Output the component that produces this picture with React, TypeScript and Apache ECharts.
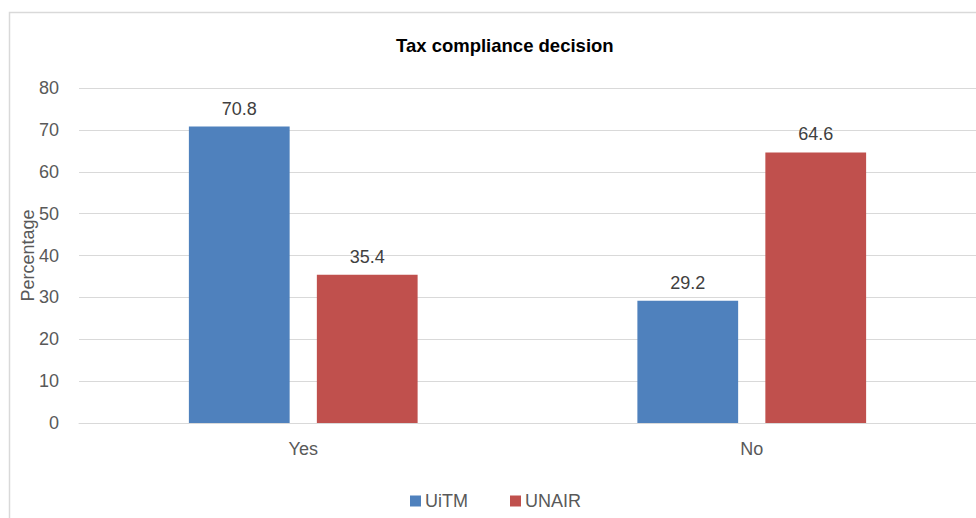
import React, { useEffect, useRef } from "react";
import * as echarts from "echarts";

const categories = ["Yes", "No"];
const uitmValues = [70.8, 29.2];
const unairValues = [35.4, 64.6];
const seriesNames = ["UiTM", "UNAIR"];
const titleText = "Tax compliance decision";
const yAxisName = "Percentage";

const FONT = "'Liberation Sans', Arial, sans-serif";

export default function App() {
  const ref = useRef<HTMLDivElement>(null);
  useEffect(() => {
    if (!ref.current) return;
    const chart = echarts.init(ref.current, null, { renderer: "svg" });
    const labelStyle = {
      show: true,
      position: "top",
      distance: 9,
      fontFamily: FONT,
      fontSize: 18,
      color: "#404040",
    };
    chart.setOption({
      animation: false,
      backgroundColor: "#ffffff",
      title: {
        text: titleText,
        left: 391,
        top: 31,
        textStyle: { fontFamily: FONT, fontSize: 18.5, fontWeight: "bold", color: "#000000" },
      },
      legend: {
        data: seriesNames,
        left: 405,
        top: 487,
        icon: "rect",
        itemWidth: 11,
        itemHeight: 11,
        itemGap: 42,
        textStyle: { fontFamily: FONT, fontSize: 18, color: "#595959", padding: [0, 0, 0, -1] },
      },
      grid: { left: 79, top: 88, width: 899, bottom: 95, containLabel: false },
      xAxis: {
        type: "category",
        data: categories,
        axisLine: { show: true, lineStyle: { color: "#d9d9d9", width: 1 } },
        axisTick: { show: false },
        axisLabel: { margin: 17, fontFamily: FONT, fontSize: 18, color: "#595959" },
      },
      yAxis: {
        type: "value",
        min: 0,
        max: 80,
        interval: 10,
        name: yAxisName,
        nameLocation: "middle",
        nameGap: 42,
        nameMoveOverlap: false,
        nameTextStyle: { fontFamily: FONT, fontSize: 18, color: "#595959" },
        axisLine: { show: false },
        axisTick: { show: false },
        axisLabel: { margin: 20, fontFamily: FONT, fontSize: 18, color: "#595959" },
        splitLine: { lineStyle: { color: "#d9d9d9", width: 1 } },
      },
      graphic: [
        {
          type: "rect",
          shape: { x: 9.5, y: 12.5, width: 1200, height: 1200 },
          style: { fill: "none", stroke: "#d9d9d9", lineWidth: 1.5 },
          silent: true,
          z: -1,
        },
      ],
      series: [
        {
          name: seriesNames[0],
          type: "bar",
          data: uitmValues,
          itemStyle: { color: "#4F81BD" },
          barGap: "27%",
          barCategoryGap: "49%",
          label: labelStyle,
        },
        {
          name: seriesNames[1],
          type: "bar",
          data: unairValues,
          itemStyle: { color: "#C0504D" },
          barGap: "27%",
          barCategoryGap: "49%",
          label: labelStyle,
        },
      ],
    });
    return () => chart.dispose();
  }, []);
  return (
    <div
      ref={ref}
      style={{ position: "absolute", left: 0, top: 0, width: 976, height: 518 }}
    />
  );
}
